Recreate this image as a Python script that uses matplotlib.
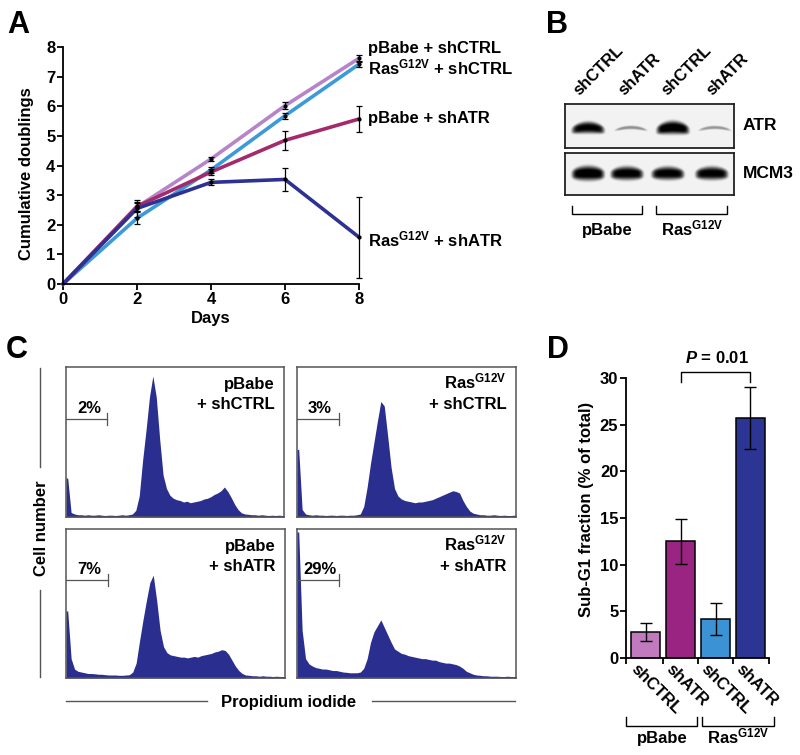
import numpy as np
import matplotlib
matplotlib.use("Agg")
import matplotlib.pyplot as plt

plt.rcParams['font.family'] = ['Liberation Sans', 'DejaVu Sans']
plt.rcParams['font.weight'] = 'bold'
plt.rcParams['mathtext.fontset'] = 'custom'
plt.rcParams['mathtext.rm'] = 'Liberation Sans:bold'
plt.rcParams['mathtext.bf'] = 'Liberation Sans:bold'
plt.rcParams['mathtext.it'] = 'Liberation Sans:bold:italic'

# ---- data -------------------------------------------------------------
RAS = r'Ras$^{\mathrm{G12V}}$'

# A: growth curves
days = [0, 2, 4, 6, 8]
pbabe_shctrl = [0, 2.60, 4.22, 6.02, 7.62]
pbabe_shctrl_err = [0, 0.12, 0.08, 0.12, 0.12]
ras_shctrl = [0, 2.22, 3.85, 5.68, 7.42]
ras_shctrl_err = [0, 0.20, 0.10, 0.10, 0.10]
pbabe_shatr = [0, 2.62, 3.78, 4.85, 5.57]
pbabe_shatr_err = [0, 0.15, 0.10, 0.32, 0.44]
ras_shatr = [0, 2.55, 3.43, 3.53, 1.58]
ras_shatr_err = [0, 0.28, 0.10, 0.40, 1.37]
growth_labels = ['pBabe + shCTRL', RAS + ' + shCTRL', 'pBabe + shATR', RAS + ' + shATR']

# B: western blot
blot_lanes = ['shCTRL', 'shATR', 'shCTRL', 'shATR']
atr_signal = [0.95, 0.50, 1.0, 0.48]
mcm3_signal = [1.0, 0.97, 0.96, 0.96]

# C: DNA content histograms (64 channels, fraction of panel height)
hist_pbabe_shctrl = [
    0.26, 0.03, 0.02, 0.015, 0.015, 0.012, 0.015, 0.012, 0.012, 0.015, 0.012, 0.01,
    0.012, 0.012, 0.01, 0.012, 0.015, 0.012, 0.015, 0.02, 0.045, 0.14, 0.38, 0.58,
    0.80, 0.94, 0.80, 0.52, 0.28, 0.19, 0.145, 0.125, 0.115, 0.11, 0.10, 0.105,
    0.095, 0.10, 0.105, 0.11, 0.12, 0.125, 0.135, 0.15, 0.16, 0.175, 0.20, 0.17,
    0.13, 0.085, 0.05, 0.028, 0.02, 0.018, 0.015, 0.015, 0.012, 0.015, 0.012, 0.01,
    0.012, 0.01, 0.012, 0.01]
hist_ras_shctrl = [
    0.45, 0.05, 0.02, 0.015, 0.012, 0.015, 0.012, 0.012, 0.01, 0.012, 0.012, 0.01,
    0.012, 0.012, 0.01, 0.012, 0.012, 0.015, 0.02, 0.07, 0.20, 0.36, 0.50, 0.64,
    0.77, 0.74, 0.54, 0.33, 0.19, 0.14, 0.12, 0.11, 0.105, 0.10, 0.095, 0.10,
    0.10, 0.105, 0.11, 0.115, 0.125, 0.135, 0.145, 0.155, 0.165, 0.175, 0.17, 0.16,
    0.11, 0.07, 0.04, 0.025, 0.02, 0.015, 0.015, 0.012, 0.012, 0.015, 0.012, 0.01,
    0.012, 0.01, 0.01, 0.012]
hist_pbabe_shatr = [
    0.45, 0.13, 0.06, 0.045, 0.04, 0.035, 0.03, 0.03, 0.028, 0.025, 0.025, 0.022,
    0.02, 0.02, 0.02, 0.018, 0.018, 0.02, 0.022, 0.04, 0.10, 0.25, 0.39, 0.52,
    0.64, 0.69, 0.52, 0.32, 0.21, 0.17, 0.155, 0.15, 0.145, 0.14, 0.14, 0.135,
    0.14, 0.145, 0.14, 0.15, 0.155, 0.16, 0.165, 0.175, 0.18, 0.19, 0.185, 0.16,
    0.12, 0.08, 0.05, 0.03, 0.02, 0.018, 0.015, 0.015, 0.012, 0.015, 0.012, 0.012,
    0.01, 0.012, 0.01, 0.01]
hist_ras_shatr = [
    0.98, 0.32, 0.13, 0.095, 0.08, 0.07, 0.065, 0.06, 0.06, 0.055, 0.05, 0.05,
    0.045, 0.04, 0.038, 0.035, 0.035, 0.035, 0.04, 0.065, 0.13, 0.24, 0.31, 0.35,
    0.39, 0.34, 0.29, 0.24, 0.195, 0.18, 0.165, 0.16, 0.15, 0.145, 0.14, 0.135,
    0.13, 0.13, 0.125, 0.12, 0.12, 0.11, 0.105, 0.10, 0.10, 0.095, 0.09, 0.08,
    0.065, 0.045, 0.035, 0.025, 0.02, 0.018, 0.015, 0.015, 0.012, 0.012, 0.012, 0.01,
    0.01, 0.012, 0.01, 0.01]
hist_titles = [('pBabe', '+ shCTRL'), (RAS, '+ shCTRL'), ('pBabe', '+ shATR'), (RAS, '+ shATR')]
subg1_gate = ['2%', '3%', '7%', '29%']

# D: sub-G1 fraction
bar_labels = ['shCTRL', 'shATR', 'shCTRL', 'shATR']
subg1 = [2.8, 12.5, 4.2, 25.7]
subg1_err = [1.0, 2.4, 1.7, 3.3]
p_text = r'$\mathit{P}$ = 0.01'

# ---- layout helpers (pixel coordinates, origin top-left) ---------------
W, H = 800, 755
fig = plt.figure(figsize=(W / 100, H / 100), dpi=100)
fig.patch.set_facecolor('white')


def px_axes(l, t, r, b):
    return fig.add_axes([l / W, 1 - b / H, (r - l) / W, (b - t) / H])


ov = fig.add_axes([0, 0, 1, 1], zorder=10)
ov.set_xlim(0, W)
ov.set_ylim(H, 0)
ov.axis('off')
ov.patch.set_visible(False)

FS = 12
GRAY = '#555555'


def bracket(x0, x1, ytop, ybot, color='black', lw=1.0):
    ov.plot([x0, x0, x1, x1], [ytop, ybot, ybot, ytop], color=color, lw=lw,
            solid_joinstyle='miter')


# panel letters
for letter, x, y in [('A', 7, 33), ('B', 546, 33), ('C', 6, 358), ('D', 547, 358)]:
    ov.text(x, y, letter, fontsize=22, fontweight='bold', va='baseline', ha='left')

# ---- A: growth curves --------------------------------------------------
axA = px_axes(63, 47, 359, 284)
series = [
    (pbabe_shctrl, pbabe_shctrl_err, '#b784c9'),
    (ras_shctrl, ras_shctrl_err, '#3d9ad8'),
    (pbabe_shatr, pbabe_shatr_err, '#a52a6c'),
    (ras_shatr, ras_shatr_err, '#2e3192'),
]
for vals, errs, c in series:
    axA.plot(days, vals, color=c, lw=2.6, clip_on=False, zorder=2)
for vals, errs, c in series:
    axA.errorbar(days[1:], vals[1:], yerr=errs[1:], fmt='o', ms=2, color='black',
                 elinewidth=0.9, capsize=2.2, capthick=0.9, clip_on=False, zorder=3)
axA.set_xlim(0, 8)
axA.set_ylim(0, 8)
axA.set_xticks(days)
axA.set_yticks(range(9))
for s in ['top', 'right']:
    axA.spines[s].set_visible(False)
for s in ['left', 'bottom']:
    axA.spines[s].set_linewidth(1.3)
axA.tick_params(labelsize=FS, width=1.3, length=4, pad=1.5)
ov.text(211, 318, 'Days', fontsize=FS, ha='center', va='center')
ov.text(27, 174, 'Cumulative doublings', fontsize=FS, ha='center', va='center', rotation=90)
for lab, yb in zip(growth_labels, [53, 74, 123, 246]):
    ov.text(368, yb, lab, fontsize=FS, ha='left', va='baseline')

# ---- B: western blot ---------------------------------------------------


def blot_image(x0, x1, y0, y1, centers, signals, half_w, half_h, arch, yoff):
    xs = np.linspace(x0, x1, 340)
    ys = np.linspace(y0, y1, 90)
    X, Y = np.meshgrid(xs, ys)
    img = np.full(X.shape, 0.10)
    for cx, s in zip(centers, signals):
        dx = (X - cx) / half_w
        yc = (y0 + y1) / 2 + yoff + arch * dx ** 2
        hh = half_h * (0.2 + 0.8 * s ** 3) * np.clip(1 - 0.4 * dx ** 2, 0.3, 1)
        band = np.exp(-np.abs((Y - yc) / hh) ** 3) * np.exp(-dx ** 8)
        img = np.maximum(img, s * band)
    return img


blots = [
    (104, 148, [588, 631, 673, 715], atr_signal, 7.0, 3.0, 1.5, 'ATR'),
    (153, 195, [588, 627, 668, 712], mcm3_signal, 7.8, 1.2, -0.8, 'MCM3'),
]
for top, bot, centers, sig, hh, arch, yoff, name in blots:
    ax = px_axes(565, top, 734, bot)
    img = blot_image(565, 734, top, bot, centers, sig, 16.5, hh, arch, yoff)
    ax.imshow(img, cmap='Greys', vmin=0, vmax=0.95, extent=[565, 734, bot, top],
              aspect='auto', interpolation='bilinear')
    ax.set_xticks([])
    ax.set_yticks([])
    for s in ax.spines.values():
        s.set_linewidth(1.3)
        s.set_color('#222222')
    ov.text(743, (top + bot) / 2, name, fontsize=FS + 0.5, ha='left', va='center')

for lab, x in zip(blot_lanes, [579, 624, 667, 712]):
    ov.text(x, 96, lab, fontsize=FS, rotation=45, rotation_mode='anchor',
            ha='left', va='baseline')
bracket(572, 642, 206, 214)
bracket(656, 727, 206, 214)
ov.text(607, 235, 'pBabe', fontsize=FS, ha='center', va='baseline')
ov.text(692, 235, RAS, fontsize=FS, ha='center', va='baseline')

# ---- C: DNA content histograms ----------------------------------------
boxes = [(66, 367, 284, 517), (297, 367, 516, 517), (66, 529, 285, 678), (297, 529, 516, 678)]
hists = [hist_pbabe_shctrl, hist_ras_shctrl, hist_pbabe_shatr, hist_ras_shatr]
for (l, t, r, b), h, (l1, l2), gate in zip(boxes, hists, hist_titles, subg1_gate):
    ax = px_axes(l, t, r, b)
    n = len(h)
    xc = np.r_[0, np.arange(n) + 0.5, n]
    hc = np.r_[h[0], h, h[-1]]
    ax.fill_between(xc, 0, hc, color='#2a2e8e', lw=0)
    ax.set_xlim(0, n)
    ax.set_ylim(0, 1.0)
    ax.set_xticks([])
    ax.set_yticks([])
    for s in ax.spines.values():
        s.set_linewidth(1.1)
        s.set_color(GRAY)
    ax.text(0.958, 0.855, l1, transform=ax.transAxes, fontsize=FS, ha='right', va='baseline')
    ax.text(0.958, 0.72, l2, transform=ax.transAxes, fontsize=FS, ha='right', va='baseline')
    ax.plot([0, 0.19], [0.655, 0.655], color=GRAY, lw=0.9, transform=ax.transAxes)
    ax.plot([0.19, 0.19], [0.615, 0.695], color=GRAY, lw=0.9, transform=ax.transAxes)
    ax.text(0.105, 0.695, gate, transform=ax.transAxes, fontsize=FS, ha='center', va='baseline')

ov.plot([40, 40], [368, 467], color=GRAY, lw=1)
ov.plot([40, 40], [590, 677], color=GRAY, lw=1)
ov.text(41, 528, 'Cell number', fontsize=FS, ha='center', va='center', rotation=90)
ov.plot([66, 207], [701, 701], color=GRAY, lw=1)
ov.plot([372, 515], [701, 701], color=GRAY, lw=1)
ov.text(289, 702, 'Propidium iodide', fontsize=FS, ha='center', va='center')

# ---- D: sub-G1 bars ----------------------------------------------------
axD = px_axes(626, 378, 769, 658)
xpos = np.arange(len(subg1))
axD.bar(xpos, subg1, width=0.83, color=['#c27abf', '#9a2482', '#3b93d5', '#2c3594'],
        edgecolor='black', linewidth=1.1, yerr=subg1_err,
        error_kw=dict(ecolor='black', elinewidth=1, capsize=4, capthick=1))
axD.set_xlim(-0.56, 3.53)
axD.set_ylim(0, 30)
axD.set_yticks(range(0, 31, 5))
axD.set_xticks([-0.56, 0.5, 1.5, 2.5, 3.53])
axD.set_xticklabels([])
for s in ['top', 'right']:
    axD.spines[s].set_visible(False)
for s in ['left', 'bottom']:
    axD.spines[s].set_linewidth(1.3)
axD.tick_params(labelsize=FS, width=1.3, length=4, pad=1.5)
for i, lab in enumerate(bar_labels):
    axD.text(i - 0.2, -0.4, lab, fontsize=FS, rotation=-45, rotation_mode='anchor',
             ha='left', va='top', clip_on=False)
axD.plot([1, 1, 3, 3], [29.6, 30.6, 30.6, 29.6], color='black', lw=1, clip_on=False)
axD.text(2.04, 32.1, p_text, fontsize=FS, ha='center', va='center')
ov.text(586, 509, 'Sub-G1 fraction (% of total)', fontsize=FS, ha='center', va='center',
        rotation=90)
bracket(626, 697, 717, 726)
bracket(702, 774, 717, 726)
ov.text(662, 743, 'pBabe', fontsize=FS, ha='center', va='baseline')
ov.text(738, 743, RAS, fontsize=FS, ha='center', va='baseline')

fig.savefig('out.png', dpi=100)
